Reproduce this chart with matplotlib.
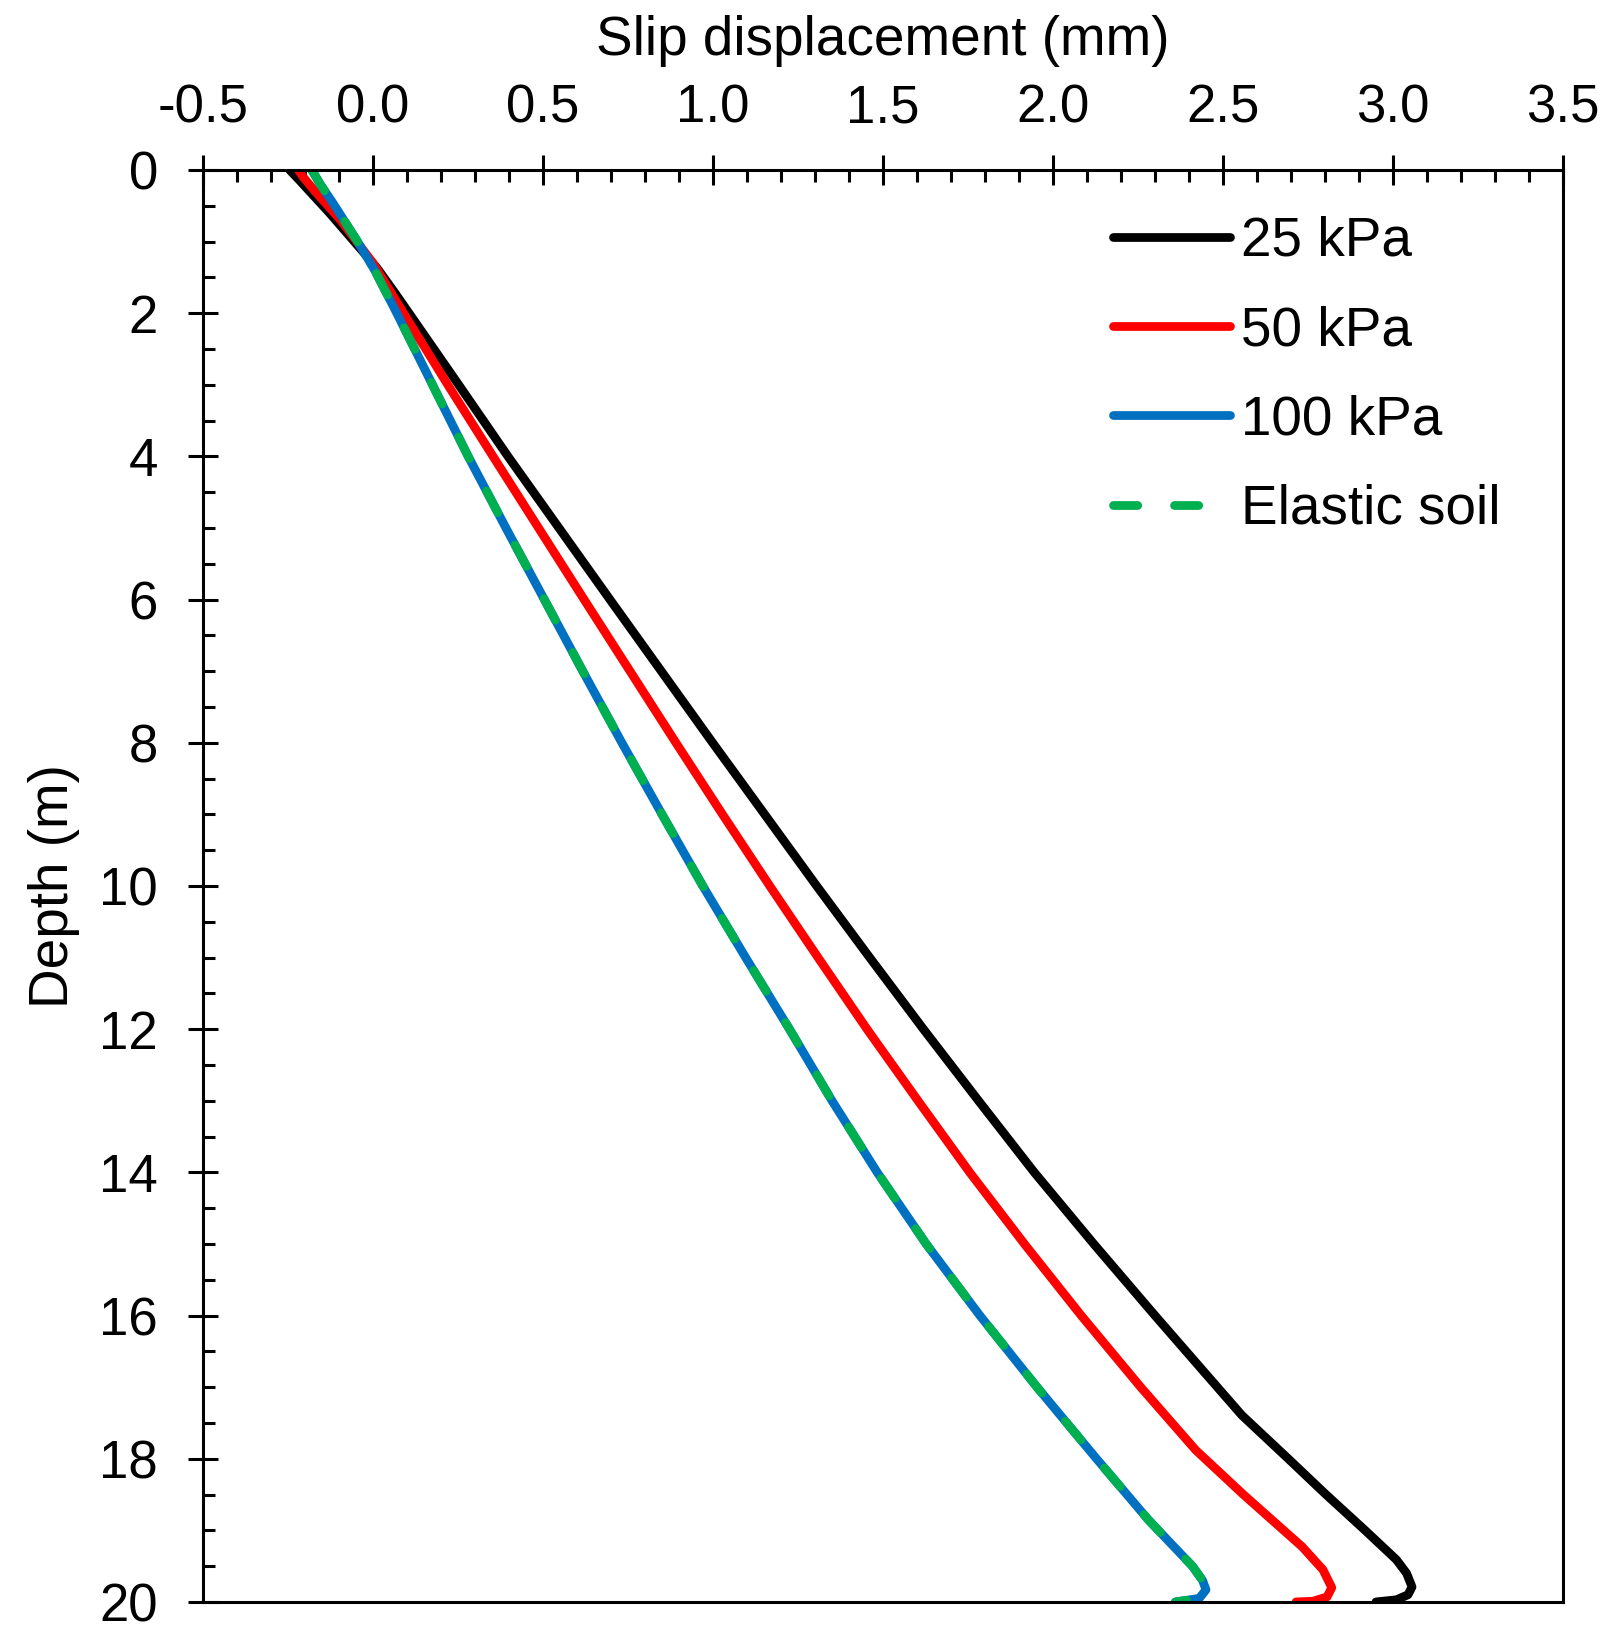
import matplotlib
matplotlib.use("Agg")
import matplotlib.pyplot as plt
from matplotlib.ticker import MultipleLocator, FormatStrFormatter

plt.rcParams['font.family'] = ['Liberation Sans', 'DejaVu Sans']

# ---- data ----
depth_25 = [0, 0.05, 0.15, 0.28, 0.6, 1.0, 1.37, 1.7, 2, 3, 4, 5, 6, 7, 8, 9, 10, 11, 12,
            13, 14, 15, 16, 16.9, 17.39, 18, 18.5, 19, 19.41, 19.6, 19.79, 19.9, 19.97, 20]
slip_25 = [-0.245, -0.235, -0.215, -0.19, -0.128, -0.055, 0.012, 0.062, 0.106, 0.252, 0.397,
           0.547, 0.697, 0.848, 0.999, 1.152, 1.305, 1.461, 1.619, 1.781, 1.945, 2.12, 2.30,
           2.465, 2.555, 2.692, 2.803, 2.918, 3.01, 3.04, 3.056, 3.044, 3.01, 2.95]

depth_50 = [0, 0.1, 0.3, 0.7, 1.3, 2, 3, 4, 5, 6, 7, 8, 9, 10, 11, 12, 13, 14, 15, 16,
            17, 17.88, 18.5, 19.23, 19.55, 19.8, 19.93, 19.99, 20]
slip_50 = [-0.22, -0.205, -0.17, -0.095, 0.0, 0.09, 0.22, 0.353, 0.487, 0.621, 0.756, 0.891,
           1.028, 1.167, 1.309, 1.453, 1.603, 1.755, 1.916, 2.083, 2.258, 2.42, 2.56, 2.733,
           2.794, 2.82, 2.806, 2.765, 2.715]

depth_100 = [0, 0.2, 0.46, 0.98, 1.4, 2, 3, 4, 5, 6, 7, 8, 9, 10, 11, 12, 13, 14, 15, 16,
             17, 18, 18.85, 19.2, 19.5, 19.7, 19.83, 19.95, 20]
slip_100 = [-0.18, -0.155, -0.118, -0.048, 0.005, 0.07, 0.175, 0.28, 0.391, 0.504, 0.617,
            0.732, 0.85, 0.97, 1.096, 1.225, 1.35, 1.483, 1.627, 1.785, 1.953, 2.128, 2.28,
            2.35, 2.41, 2.44, 2.45, 2.43, 2.36]

depth_el = depth_100
slip_el = slip_100

labels = ['25 kPa', '50 kPa', '100 kPa', 'Elastic soil']
colors = ['#000000', '#FF0000', '#0070C0', '#00B050']

xticks = [-0.5, 0.0, 0.5, 1.0, 1.5, 2.0, 2.5, 3.0, 3.5]
yticks = [0, 2, 4, 6, 8, 10, 12, 14, 16, 18, 20]

# ---- figure ----
fig = plt.figure(figsize=(16.15, 16.27), dpi=100)
ax = fig.add_axes([0.1257, 0.0154, 0.8421, 0.8801])

lw = 6.3
ax.plot(slip_25, depth_25, color=colors[0], lw=lw, solid_capstyle='round',
        solid_joinstyle='round', label=labels[0])
ax.plot(slip_50, depth_50, color=colors[1], lw=lw, solid_capstyle='round',
        solid_joinstyle='round', label=labels[1])
ax.plot(slip_100, depth_100, color=colors[2], lw=lw, solid_capstyle='round',
        solid_joinstyle='round', label=labels[2])
ax.plot(slip_el, depth_el, color=colors[3], lw=lw, dashes=(2.77, 4.2),
        dash_capstyle='round', label=labels[3])

ax.set_xlim(xticks[0], xticks[-1])
ax.set_ylim(yticks[-1], yticks[0])

ax.xaxis.set_ticks_position('top')
ax.xaxis.set_label_position('top')
ax.set_xticks(xticks)
ax.set_yticks(yticks)
ax.xaxis.set_major_formatter(FormatStrFormatter('%.1f'))
ax.xaxis.set_minor_locator(MultipleLocator(0.1))
ax.yaxis.set_minor_locator(MultipleLocator(0.5))

ax.tick_params(axis='both', which='major', direction='inout', length=21, width=2.2,
               labelsize=38)
ax.tick_params(axis='x', which='major', pad=16)
ax.tick_params(axis='y', which='major', pad=22)
ax.tick_params(axis='both', which='minor', direction='in', length=8.5, width=2.2)

for s in ax.spines.values():
    s.set_linewidth(2.2)

ax.set_xlabel('Slip displacement (mm)', fontsize=39.5, labelpad=20)
ax.set_ylabel('Depth (m)', fontsize=39.5, labelpad=14)

leg = ax.legend(loc='upper left', bbox_to_anchor=(0.669, 0.968), frameon=False,
                fontsize=39.5, handlelength=2.13, handletextpad=0.2, labelspacing=0.68,
                borderpad=0, borderaxespad=0)

fig.savefig('out.png', dpi=100)
